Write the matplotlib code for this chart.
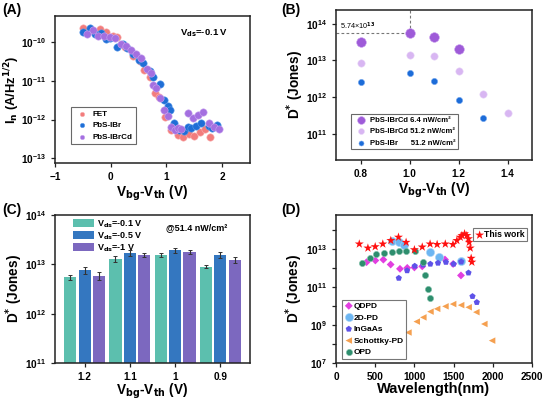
import numpy as np
import matplotlib
matplotlib.use("Agg")
import matplotlib.pyplot as plt
from matplotlib.ticker import NullFormatter, FixedLocator

plt.rcParams['font.family'] = ['Liberation Sans', 'DejaVu Sans']
plt.rcParams['font.weight'] = 'bold'
plt.rcParams['axes.labelweight'] = 'bold'
plt.rcParams['mathtext.default'] = 'bf'

# ---------------- Panel A data ----------------
a_fet_x = [-0.49, -0.38, -0.19, -0.08, 0.04, 0.12, 0.25, 0.40, 0.52, 0.60, 0.70, 0.79, 0.86, 0.98, 1.08, 1.20, 1.29, 1.41, 1.50, 1.60, 1.70, 1.79]
a_fet_y = [2.4e-10, 2.1e-10, 2.2e-10, 1.9e-10, 1.5e-10, 1.35e-10, 7.5e-11, 4.5e-11, 3.2e-11, 1.9e-11, 1.3e-11, 4.8e-12, 3.8e-12, 1.15e-12, 5.5e-13, 4.1e-13, 3.6e-13, 4.2e-13, 3.8e-13, 4.8e-13, 5.8e-13, 3.6e-13]
a_ibr_x = [-0.49, -0.38, -0.28, -0.18, -0.08, -0.01, 0.12, 0.22, 0.30, 0.40, 0.50, 0.58, 0.70, 0.76, 0.88, 0.96, 1.02, 1.07, 1.14, 1.23, 1.32, 1.38, 1.44, 1.53, 1.62, 1.76, 1.82, 1.91]
a_ibr_y = [1.8e-10, 2.3e-10, 1.6e-10, 1.75e-10, 1.25e-10, 1.3e-10, 7.4e-11, 9.0e-11, 7.0e-11, 5.0e-11, 3.4e-11, 3.0e-11, 1.85e-11, 1.3e-11, 8.5e-12, 3.2e-12, 2.2e-12, 1.8e-12, 8.0e-13, 5.5e-13, 5.2e-13, 6.5e-13, 6.0e-13, 6.8e-13, 8.2e-13, 6.8e-13, 6.0e-13, 7.2e-13]
a_cd_x = [-0.43, -0.31, -0.23, -0.12, -0.02, 0.08, 0.18, 0.28, 0.36, 0.46, 0.54, 0.65, 0.72, 0.76, 0.82, 0.88, 0.96, 1.02, 1.08, 1.15, 1.20, 1.27, 1.38, 1.47, 1.56, 1.66, 1.76, 1.85, 1.94]
a_cd_y = [1.6e-10, 2.1e-10, 1.45e-10, 1.5e-10, 1.4e-10, 1.3e-10, 9.0e-11, 8.0e-11, 6.5e-11, 5.0e-11, 4.0e-11, 2.0e-11, 1.6e-11, 8.0e-12, 6.5e-12, 3.6e-12, 1.8e-12, 1.25e-12, 6.5e-13, 5.5e-13, 6.0e-13, 5.8e-13, 1.45e-12, 1.1e-12, 1.3e-12, 1.6e-12, 8.0e-13, 6.5e-13, 5.8e-13]

# ---------------- Panel B data ----------------
b_cd64_x = [0.8, 1.0, 1.1, 1.2]
b_cd64_y = [3.3e13, 5.74e13, 4.3e13, 2.0e13]
b_cd512_x = [0.8, 1.0, 1.1, 1.2, 1.3, 1.4]
b_cd512_y = [8.5e12, 1.45e13, 1.3e13, 5.3e12, 1.2e12, 3.7e11]
b_ibr_x = [0.8, 1.0, 1.1, 1.2, 1.3]
b_ibr_y = [2.6e12, 4.5e12, 2.7e12, 8.5e11, 2.7e11]

# ---------------- Panel C data ----------------
c_categories = ['1.2', '1.1', '1', '0.9']
c_v01 = [5.5e12, 1.3e13, 1.55e13, 8.9e12]
c_v01_err = [0.7e12, 1.8e12, 1.7e12, 0.6e12]
c_v05 = [7.7e12, 1.7e13, 1.95e13, 1.55e13]
c_v05_err = [1.3e12, 2.2e12, 2.3e12, 2.0e12]
c_v1 = [5.9e12, 1.55e13, 1.8e13, 1.22e13]
c_v1_err = [1.0e12, 1.5e12, 1.6e12, 1.6e12]

# ---------------- Panel D data ----------------
d_this_x = [297, 407, 500, 597, 699, 797, 894, 1000, 1100, 1200, 1290, 1394, 1492, 1542, 1585, 1606, 1640, 1669, 1690, 1699, 1712, 1724, 1733]
d_this_y = [1.8e13, 1.1e13, 1.3e13, 1.8e13, 2.75e13, 4.1e13, 2.2e13, 9.0e12, 1.25e13, 1.8e13, 1.7e13, 1.8e13, 1.7e13, 2.75e13, 4.1e13, 5.0e13, 6.2e13, 5.0e13, 3.4e13, 2.2e13, 1.1e13, 3.2e12, 2.0e12]
d_qdpd_x = [390, 502, 604, 697, 816, 909, 1000, 1100, 1390, 1494, 1594]
d_qdpd_y = [2.0e12, 2.45e12, 2.7e12, 1.5e12, 8.9e11, 1.0e12, 1.05e12, 1.2e12, 2.75e12, 1.6e12, 4.0e11]
d_2d_x = [710, 809, 866, 1203, 1309, 1600]
d_2d_y = [2.45e13, 2.2e13, 1.5e13, 7.2e12, 3.6e12, 2.4e12]
d_ingaas_x = [801, 907, 1004, 1110, 1203, 1301, 1402, 1500, 1597, 1690, 1741, 1796]
d_ingaas_y = [2.9e11, 7.2e11, 1.25e12, 1.45e12, 1.6e12, 1.8e12, 2.0e12, 1.6e12, 2.1e12, 5.5e11, 3.2e10, 1.55e10]
d_sch_x = [924, 1030, 1114, 1205, 1290, 1396, 1494, 1596, 1692, 1790, 1892, 1991]
d_sch_y = [4.0e8, 1.5e9, 2.5e9, 5.0e9, 7.0e9, 9.5e9, 1.25e10, 1.1e10, 8.5e9, 4.7e9, 1.12e9, 1.5e8]
d_opd_x = [326, 428, 513, 610, 716, 809, 898, 1013, 1110, 1140, 1169, 1195]
d_opd_y = [1.8e12, 3.2e12, 5.5e12, 5.9e12, 7.2e12, 7.8e12, 8.1e12, 8.1e12, 2.1e12, 4.3e11, 7.8e10, 2.5e10]

W, H = 546, 403
fig = plt.figure(figsize=(W / 100, H / 100), dpi=100)

def rect(l, t, r, b):
    return [l / W, 1 - b / H, (r - l) / W, (b - t) / H]

TICK = 7.2
LAB = 9.8

def style(ax):
    for s in ax.spines.values():
        s.set_linewidth(1.1)
        s.set_color('#222222')
    ax.tick_params(which='both', direction='out', labelsize=TICK, width=0.9, color='#222222')
    ax.tick_params(which='major', length=3)
    ax.tick_params(which='minor', length=0)
    for lbl in ax.get_xticklabels() + ax.get_yticklabels():
        lbl.set_fontweight('bold')

# ---------- Panel A ----------
axA = fig.add_axes(rect(55, 16, 250, 163))
ms = 28
axA.scatter(a_fet_x, a_fet_y, s=ms, color='#F27C7C', edgecolors='#F9B0B0', linewidths=0.4, label='FET', zorder=3)
axA.scatter(a_ibr_x, a_ibr_y, s=ms, color='#1F6ED6', edgecolors='#5C9BEA', linewidths=0.4, label='PbS-IBr', zorder=3)
axA.scatter(a_cd_x, a_cd_y, s=ms, color='#A46FE0', edgecolors='#C9A5F0', linewidths=0.4, label='PbS-IBrCd', zorder=3)
axA.set_yscale('log')
axA.set_xlim(-1, 2.5)
axA.set_ylim(7.5e-14, 4.8e-10)
axA.set_xticks([-1, 0, 1, 2])
axA.yaxis.set_major_locator(FixedLocator([1e-13, 1e-12, 1e-11, 1e-10]))
axA.yaxis.set_minor_formatter(NullFormatter())
axA.set_xlabel(r'V$_{\mathbf{bg}}$-V$_{\mathbf{th}}$ (V)', fontsize=LAB, labelpad=1)
axA.set_ylabel(r'I$_{\mathbf{n}}$ (A/Hz$^{\mathbf{1/2}}$)', fontsize=9.3)
axA.yaxis.set_label_coords(-0.17, 0.5)
axA.text(0.64, 0.87, r'V$_{\mathbf{ds}}$=-0.1 V', transform=axA.transAxes, fontsize=6.8, fontweight='bold')
legA = axA.legend(loc='lower left', bbox_to_anchor=(0.06, 0.1), fontsize=5.8, frameon=True, fancybox=False,
                  edgecolor='#444444', handletextpad=0.3, borderpad=0.4, labelspacing=0.5, markerscale=0.6)
legA.get_frame().set_linewidth(0.8)
for t in legA.get_texts():
    t.set_fontweight('bold')
style(axA)
fig.text(0.005, 0.965, '(A)', fontsize=10, fontweight='bold')

# ---------- Panel B ----------
axB = fig.add_axes(rect(336, 10, 532, 160))
axB.set_yscale('log')
axB.set_xlim(0.7, 1.5)
axB.set_ylim(1.9e10, 2.4e14)
axB.plot([0.7, 1.0], [5.74e13, 5.74e13], ls=(0, (2.5, 2)), color='#777777', lw=0.8, zorder=1)
axB.plot([1.0, 1.0], [5.74e13, 2.4e14], ls=(0, (2.5, 2)), color='#777777', lw=0.8, zorder=1)
axB.text(0.715, 7.0e13, r'5.74×10$^{13}$', fontsize=5.2, fontweight='normal')
axB.scatter(b_cd64_x, b_cd64_y, s=48, color='#9E5BD8', edgecolors='#C79BEE', linewidths=0.4, label='PbS-IBrCd 6.4 nW/cm²', zorder=3)
axB.scatter(b_cd512_x, b_cd512_y, s=28, color='#D8B6F2', edgecolors='#E8D4F8', linewidths=0.4, label='PbS-IBrCd 51.2 nW/cm²', zorder=3)
axB.scatter(b_ibr_x, b_ibr_y, s=20, color='#1C6CD8', edgecolors='#6FA3EE', linewidths=0.4, label='PbS-IBr      51.2 nW/cm²', zorder=3)
axB.set_xticks([0.8, 1.0, 1.2, 1.4])
axB.set_xticklabels(['0.8', '1.0', '1.2', '1.4'])
axB.yaxis.set_major_locator(FixedLocator([1e11, 1e12, 1e13, 1e14]))
axB.yaxis.set_minor_formatter(NullFormatter())
axB.set_xlabel(r'V$_{\mathbf{bg}}$-V$_{\mathbf{th}}$ (V)', fontsize=LAB, labelpad=1)
axB.set_ylabel(r'D$^{\mathbf{*}}$ (Jones)', fontsize=LAB)
axB.yaxis.set_label_coords(-0.153, 0.5)
legB = axB.legend(loc='lower left', bbox_to_anchor=(0.055, 0.045), fontsize=5.5, frameon=True, fancybox=False,
                  edgecolor='#444444', handletextpad=0.2, borderpad=0.35, labelspacing=0.55, markerscale=0.8)
legB.get_frame().set_linewidth(0.8)
for t in legB.get_texts():
    t.set_fontweight('bold')
style(axB)
fig.text(0.515, 0.965, '(B)', fontsize=10, fontweight='bold')

# ---------- Panel C ----------
axC = fig.add_axes(rect(55, 215, 250, 363))
axC.set_yscale('log')
x = np.arange(len(c_categories))
bw = 0.27
step = 0.32
ekw = dict(elinewidth=0.8, capsize=1.6, capthick=0.7, ecolor='#333333')
axC.bar(x - step, c_v01, bw, yerr=c_v01_err, color='#5CBFAE', label=r'V$_{\mathbf{ds}}$=-0.1 V', error_kw=ekw, zorder=2)
axC.bar(x, c_v05, bw, yerr=c_v05_err, color='#3477C0', label=r'V$_{\mathbf{ds}}$=-0.5 V', error_kw=ekw, zorder=2)
axC.bar(x + step, c_v1, bw, yerr=c_v1_err, color='#7C68BF', label=r'V$_{\mathbf{ds}}$=-1 V', error_kw=ekw, zorder=2)
axC.set_ylim(1e11, 1e14)
axC.set_xlim(-0.66, 3.66)
axC.set_xticks(x)
axC.set_xticklabels(c_categories)
axC.yaxis.set_major_locator(FixedLocator([1e11, 1e12, 1e13, 1e14]))
axC.yaxis.set_minor_formatter(NullFormatter())
axC.tick_params(axis='x', length=0)
axC.set_xlabel(r'V$_{\mathbf{bg}}$-V$_{\mathbf{th}}$ (V)', fontsize=LAB, labelpad=0)
axC.set_ylabel(r'D$^{\mathbf{*}}$ (Jones)', fontsize=LAB)
axC.yaxis.set_label_coords(-0.154, 0.5)
axC.text(0.57, 0.9, '@51.4 nW/cm²', transform=axC.transAxes, fontsize=6.5, fontweight='bold')
legC = axC.legend(loc='upper left', bbox_to_anchor=(0.06, 1.02), fontsize=6.5, frameon=False,
                  handlelength=2.3, handleheight=0.9, handletextpad=0.4, labelspacing=0.05, borderpad=0.2)
for t in legC.get_texts():
    t.set_fontweight('bold')
style(axC)
fig.text(0.005, 0.47, '(C)', fontsize=10, fontweight='bold')

# ---------- Panel D ----------
axD = fig.add_axes(rect(336, 215, 532, 363))
axD.set_yscale('log')
hQ = axD.scatter(d_qdpd_x, d_qdpd_y, s=16, marker='D', color='#E23FE0', edgecolors='none', label='QDPD', zorder=3)
h2 = axD.scatter(d_2d_x, d_2d_y, s=34, marker='o', color='#6DB6F2', edgecolors='#A9D4F7', linewidths=0.4, label='2D-PD', zorder=3)
hI = axD.scatter(d_ingaas_x, d_ingaas_y, s=22, marker='p', color='#5E52E8', edgecolors='none', label='InGaAs', zorder=3)
hS = axD.scatter(d_sch_x, d_sch_y, s=22, marker='<', color='#F5A050', edgecolors='none', label='Schottky-PD', zorder=3)
hO = axD.scatter(d_opd_x, d_opd_y, s=20, marker='o', color='#2E8E6E', edgecolors='#7FBFA8', linewidths=0.4, label='OPD', zorder=3)
hT = axD.scatter(d_this_x, d_this_y, s=46, marker='*', color='#FF1010', edgecolors='none', label='This work', zorder=4)
axD.set_xlim(0, 2500)
axD.set_ylim(1e7, 6e14)
axD.set_xticks([0, 500, 1000, 1500, 2000, 2500])
axD.yaxis.set_major_locator(FixedLocator([1e7, 1e9, 1e11, 1e13]))
axD.yaxis.set_minor_locator(FixedLocator([1e8, 1e10, 1e12, 1e14]))
axD.yaxis.set_minor_formatter(NullFormatter())
axD.set_xlabel('Wavelength(nm)', fontsize=10.5, labelpad=0)
axD.set_ylabel(r'D$^{\mathbf{*}}$ (Jones)', fontsize=LAB)
axD.yaxis.set_label_coords(-0.158, 0.5)
legD1 = axD.legend(handles=[hT], loc='upper right', bbox_to_anchor=(0.995, 0.94), fontsize=6.2, frameon=True,
                   fancybox=False, edgecolor='#555555', handletextpad=0.0, borderpad=0.25, handlelength=1.0)
legD1.get_frame().set_linewidth(0.8)
for t in legD1.get_texts():
    t.set_fontweight('bold')
axD.add_artist(legD1)
legD2 = axD.legend(handles=[hQ, h2, hI, hS, hO], loc='lower left', bbox_to_anchor=(0.01, 0.0), fontsize=6.0,
                   frameon=True, fancybox=False, edgecolor='#555555', handletextpad=0.1, borderpad=0.3,
                   labelspacing=0.45, handlelength=1.0)
legD2.get_frame().set_linewidth(0.8)
for t in legD2.get_texts():
    t.set_fontweight('bold')
style(axD)
axD.tick_params(axis='y', which='minor', length=3)
fig.text(0.515, 0.47, '(D)', fontsize=10, fontweight='bold')

fig.savefig('out.png', dpi=100)
